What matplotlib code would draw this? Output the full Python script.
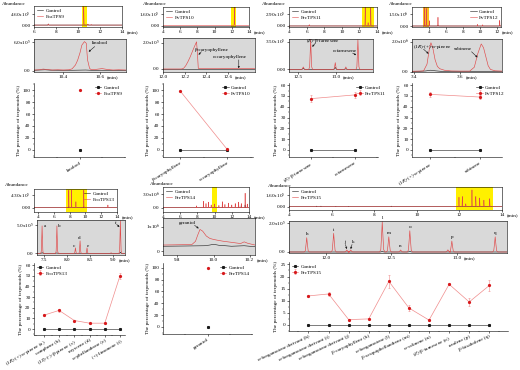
import matplotlib
matplotlib.use('Agg')
import matplotlib.pyplot as plt
from matplotlib.ticker import MultipleLocator

FS = 3.7
plt.rcParams['font.family'] = ['Liberation Serif', 'DejaVu Serif']
plt.rcParams['mathtext.fontset'] = 'stix'
plt.rcParams['font.size'] = FS
for k in ['xtick', 'ytick']:
    plt.rcParams[f'{k}.major.size'] = 1.5
    plt.rcParams[f'{k}.major.width'] = 0.4
    plt.rcParams[f'{k}.minor.size'] = 0.9
    plt.rcParams[f'{k}.minor.width'] = 0.3
    plt.rcParams[f'{k}.major.pad'] = 1.0
    plt.rcParams[f'{k}.labelsize'] = FS
plt.rcParams['axes.linewidth'] = 0.4

RED = '#e04848'
LRED = '#f08c8c'
DRED = '#d7191c'
BLACK = '#1a1a1a'
GRAY = '#d9d9d9'
YELLOW = '#fff000'

# ---------------- data ----------------
# A: FcaTPS9
A_ov_red = [(7.3, 0.4e5), (10.52, 7.6e5), (10.9, 0.4e5), (11.2, 0.25e5)]
A_ov_ctl = [(7.3, 0.45e5), (10.9, 0.3e5)]
A_zm_t = [10.24, 10.27, 10.29, 10.31, 10.34, 10.37, 10.40, 10.43, 10.447, 10.465, 10.477,
          10.49, 10.50, 10.514, 10.524, 10.531, 10.542, 10.55, 10.58, 10.61, 10.64, 10.67, 10.70, 10.74]
A_zm_red = [0.15, 0.2, 0.35, 0.25, 0.15, 0.2, 0.15, 0.2, 0.4, 1.2, 2.2,
            3.8, 5.4, 6.15, 5.8, 2.3, 0.5, 0.25, 0.3, 0.45, 0.25, 0.15, 0.2, 0.15]
A_zm_ct = [10.24, 10.30, 10.33, 10.38, 10.45, 10.52, 10.56, 10.60, 10.65, 10.74]
A_zm_ctl = [0.1, 0.2, 0.12, 0.1, 0.1, 0.15, 0.08, 0.1, 0.08, 0.05]
A_cats = ['linalool']
A_ctl = [0]
A_smp = [100]

# B: FvTPS10
B_ov_red = [(12.31, 2.5e5)]
B_ov_ctl = []
B_zm_t = [12.0, 12.17, 12.19, 12.21, 12.23, 12.25, 12.27, 12.29, 12.31, 12.318, 12.326, 12.34, 12.5, 12.7, 12.85]
B_zm_red = [0, 0, 0.05, 0.25, 0.55, 0.9, 1.3, 1.7, 2.07, 1.2, 0.05, 0.02, 0.02, 0.03, 0.02]
B_cats = ['β-caryophyllene', 'α-caryophyllene']
B_ctl = [0, 0]
B_smp = [99, 1]

# C: FrcTPS11
C_ov_red = [(6.3, 0.3e5), (12.66, 4.5e5), (12.99, 0.8e5), (13.29, 4.4e5)]
C_ov_ctl = [(6.3, 0.15e5)]
C_zm_red = [(12.566, 0.3e5), (12.664, 3.8e5), (12.99, 0.85e5), (13.13, 0.3e5), (13.29, 3.75e5)]
C_zm_ctl = [(12.566, 0.15e5), (12.99, 0.25e5), (13.13, 0.08e5)]
C_cats = ['($\\it{E}$)-β-farnesene', 'α-farnesene']
C_ctl = [0, 0]
C_smp = [47.5, 51]
C_err = [3, 2.5]

# D: FvTPS12
D_ov_red = [(3.47, 2.3e6), (3.69, 2.2e6), (4.05, 0.66e6), (5.05, 1.09e6), (9.7, 0.2e6),
            (10.3, 0.15e6), (12.3, 0.7e6)]
D_ov_ctl = [(3.47, 0.1e6), (5.05, 0.1e6), (12.3, 0.1e6)]
D_zm_t = [3.39, 3.44, 3.455, 3.465, 3.472, 3.48, 3.49, 3.50, 3.51, 3.53, 3.56, 3.60, 3.64,
          3.66, 3.675, 3.69, 3.70, 3.71, 3.72, 3.73, 3.75, 3.78]
D_zm_red = [0.03, 0.05, 0.5, 1.5, 1.93, 1.6, 0.8, 0.35, 0.2, 0.1, 0.05, 0.04, 0.04,
            0.3, 1.2, 1.85, 1.6, 1.0, 0.4, 0.15, 0.06, 0.04]
D_zm_ct = [3.39, 3.45, 3.47, 3.49, 3.52, 3.60, 3.69, 3.78]
D_zm_ctl = [0.0, 0.05, 0.1, 0.06, 0.02, 0.01, 0.02, 0.01]
D_cats = ['(1$\\it{R}$)-(+)-α-pinene', 'sabinene']
D_ctl = [0, 0]
D_smp = [51.5, 49]
D_err = [2, 1.5]

# E: FcoTPS13
E_ov_red = [(7.9, 5.9e5), (8.25, 5.9e5), (8.8, 2.0e5), (9.8, 5.9e5), (12.85, 0.9e5)]
E_ov_ctl = [(7.9, 0.3e5), (9.8, 0.3e5)]
E_zm_red = [(7.46, 4.83e5), (7.78, 4.83e5), (8.18, 0.97e5), (8.28, 2.2e5), (8.43, 0.97e5),
            (8.95, 0.1e5), (9.15, 5.7e5)]
E_zm_ctl = [(7.46, 0.15e5), (7.78, 0.1e5), (9.15, 0.2e5)]
E_cats = ['(1$\\it{R}$)-(+)-α-pinene (a)', 'camphene (b)', '(1$\\it{S}$)-(-)-β-pinene (c)',
          'myrcene (d)', 'α-phellandrene (e)', '(+)-limonene (f)']
E_ctl = [0, 0, 0, 0, 0, 0]
E_smp = [13, 17.5, 8, 5.5, 5.5, 50]
E_err = [1, 1.2, 0.5, 0.5, 0.5, 3]

# F: FreTPS14
F_ov_red = [(7.9, 0.4e6), (8.7, 1.4e6), (9.0, 0.9e6), (9.3, 1.2e6), (9.6, 0.6e6), (10.0, 0.8e6),
            (10.5, 0.5e6), (10.9, 1.3e6), (11.2, 0.7e6), (11.6, 1.0e6), (12.0, 0.6e6),
            (12.4, 0.9e6), (12.8, 1.2e6), (13.1, 0.9e6), (13.55, 3.15e6), (13.8, 0.8e6)]
F_ov_ctl = [(8.7, 0.3e6), (10.9, 0.3e6), (12.8, 0.4e6), (13.1, 0.5e6), (13.55, 0.6e6)]
F_zm_t = [9.72, 9.80, 9.88, 9.90, 9.912, 9.925, 9.94, 9.96, 9.98, 10.0, 10.02, 10.05, 10.08,
          10.12, 10.15, 10.17, 10.19, 10.23]
F_zm_red = [0.25, 0.26, 0.27, 0.4, 0.65, 0.89, 0.82, 0.62, 0.52, 0.48, 0.45, 0.41, 0.38,
            0.34, 0.31, 0.38, 0.32, 0.25]
F_zm_ct = [9.72, 9.85, 9.95, 9.98, 10.0, 10.03, 10.1, 10.17, 10.23]
F_zm_ctl = [0.2, 0.21, 0.22, 0.25, 0.28, 0.24, 0.2, 0.22, 0.18]
F_cats = ['geraniol']
F_ctl = [0]
F_smp = [100]

# G: FrcTPS15
G_ov_red = [(11.98, 1.3e5), (12.14, 1.4e5), (12.3, 0.4e5), (12.59, 2.3e5), (12.77, 1.4e5),
            (12.95, 1.2e5), (13.15, 0.9e5), (13.42, 1.1e5)]
G_ov_ctl = [(5.3, 0.08e5), (5.5, 0.08e5), (6.2, 0.06e5), (6.8, 0.06e5), (8.8, 0.08e5)]
G_zm_red = [(11.855, 0.99e5), (12.06, 1.29e5), (12.16, 0.14e5), (12.19, 0.14e5), (12.43, 2.09e5),
            (12.48, 1.05e5), (12.57, 0.14e5), (12.64, 1.47e5), (12.93, 0.15e5), (12.96, 0.76e5),
            (13.29, 1.05e5)]
G_zm_ctl = [(12.43, 0.05e5), (12.64, 0.05e5)]
G_letters = [('h', 11.855, 0.99e5), ('i', 12.06, 1.29e5), ('l', 12.43, 2.09e5), ('m', 12.48, 1.05e5),
             ('n', 12.57, 0.14e5), ('o', 12.64, 1.47e5), ('p', 12.96, 0.76e5), ('q', 13.29, 1.05e5)]
G_cats = ['α-bergamotene derivant (h)', 'α-bergamotene derivant (i)', 'α-bergamotene derivant (j)',
          'β-caryophyllene (k)', 'α-bergamotene (l)', 'β-sesquiphellandrene (m)', 'α-selinene (n)',
          '($\\it{Z}$)-β-farnesene (o)', 'azulene (p)', 'β-bisabolene (q)']
G_ctl = [0] * 10
G_smp = [12, 12.8, 2.2, 2.5, 18, 7, 2, 16.8, 9.5, 16.3]
G_err = [0.5, 0.8, 0.3, 0.2, 2.8, 1.2, 0.3, 0.4, 1.6, 2.2]

# ---------------- helpers ----------------
W, H = 520, 370
fig = plt.figure(figsize=(W / 100, H / 100), dpi=100)

PX = [-1.0, -0.55, -0.25, 0.0, 0.25, 0.55, 1.0]
PY = [0.0, 0.08, 0.55, 1.0, 0.55, 0.08, 0.0]


def box(l, t, r, b):
    return fig.add_axes([l / W, 1 - b / H, (r - l) / W, (b - t) / H])


def peak_trace(xlim, peaks, hw):
    xs, ys = [xlim[0]], [0.0]
    for t, h in sorted(peaks):
        for px, py in zip(PX, PY):
            xs.append(t + px * hw)
            ys.append(py * h)
    xs.append(xlim[1])
    ys.append(0.0)
    return xs, ys


def min_label(ax, t, lab):
    ax.annotate('(min)', xy=(t, 0), xycoords=('data', 'axes fraction'),
                xytext=(len(lab) * 1.05 + 2.5, -3.4), textcoords='offset pixels',
                ha='left', va='top', fontsize=FS)


def abundance(x, y):
    fig.text(x / W, 1 - y / H, 'Abundance', ha='left', va='center', fontsize=FS)


def leg(ax, loc, **kw):
    ax.legend(loc=loc, frameon=False, handlelength=1.3, borderpad=0.2, labelspacing=0.15,
              handletextpad=0.4, borderaxespad=0.3, fontsize=FS, **kw)


def overview(ax, xlim, xticks, ylim, ytop, ytop_lab, span, red, ctl, hw, name, loc,
             zero='0.00', span_color=YELLOW):
    ax.axvspan(*span, color=span_color, lw=0, zorder=0)
    xs, ys = peak_trace(xlim, ctl, hw)
    ax.plot(xs, ys, color=BLACK, lw=0.4, label='Control')
    xs, ys = peak_trace(xlim, red, hw)
    ax.plot(xs, ys, color=RED, lw=0.4, label=name)
    ax.set_xlim(xlim)
    ax.set_ylim(ylim)
    ax.set_xticks(xticks)
    labs = [f'{t:g}' for t in xticks]
    ax.set_xticklabels(labs)
    ax.set_yticks([0, ytop])
    ax.set_yticklabels([zero, ytop_lab])
    min_label(ax, xticks[-1], labs[-1])
    leg(ax, loc)


def zoom_axes(ax, xlim, xticks, xfmt, ylim, ytop, ytop_lab, zero):
    ax.set_facecolor(GRAY)
    ax.set_xlim(xlim)
    ax.set_ylim(ylim)
    ax.set_xticks(xticks)
    labs = [xfmt.format(t) for t in xticks]
    ax.set_xticklabels(labs)
    ax.set_yticks([0, ytop])
    ax.set_yticklabels([zero, ytop_lab])
    min_label(ax, xticks[-1], labs[-1])


def arrow(ax, text_xy, tip_xy):
    ax.annotate('', xy=tip_xy, xytext=text_xy,
                arrowprops=dict(arrowstyle='-|>', lw=0.4, color=BLACK, mutation_scale=2.5,
                                shrinkA=0, shrinkB=0))


def pct(ax, cats, ctl, smp, err, xlim, ylim, ymaj, ymin, name, loc, rot=32, **legkw):
    x = list(range(len(cats)))
    ax.plot(x, ctl, color=BLACK, lw=0.4, marker='s', ms=1.2, label='Control')
    ax.errorbar(x, smp, yerr=err, color=LRED, lw=0.5, marker='o', ms=1.3, mfc=DRED, mec=DRED,
                elinewidth=0.4, ecolor=LRED, capsize=0.8, capthick=0.4, label=name)
    ax.set_xlim(xlim)
    ax.set_ylim(ylim)
    ax.set_xticks(x)
    ax.set_xticklabels(cats, rotation=rot, ha='right', rotation_mode='anchor')
    ax.xaxis.set_minor_locator(MultipleLocator(0.5))
    ax.yaxis.set_major_locator(MultipleLocator(ymaj))
    ax.yaxis.set_minor_locator(MultipleLocator(ymin))
    ax.spines['top'].set_visible(False)
    ax.spines['right'].set_visible(False)
    ax.set_ylabel('The percentage of terpenoids (%)', labelpad=1.5, fontsize=FS + 0.1)
    leg(ax, loc, **legkw)


# ---------------- A: FcaTPS9 ----------------
ax = box(34, 6, 122, 27)
overview(ax, (6, 14), [6, 8, 10, 12, 14], (-0.8e5, 7.9e5), 4.6e5, '4.60x10$^5$',
         (10.35, 10.8), A_ov_red, A_ov_ctl, 0.06, 'FcaTPS9', 'upper left')
abundance(2, 4)
ax = box(34, 39, 126, 72)
zoom_axes(ax, (10.24, 10.74), [10.4, 10.6], '{:.1f}', (-0.27e5, 6.7e5), 6e5, '6.0x10$^5$', '0.0')
ax.plot(A_zm_ct, [v * 1e5 for v in A_zm_ctl], color=BLACK, lw=0.4)
ax.plot(A_zm_t, [v * 1e5 for v in A_zm_red], color=RED, lw=0.45)
ax.text(10.6, 5.75e5, 'linalool', ha='center', va='center')
arrow(ax, (10.57, 5.1e5), (10.537, 4.0e5))
ax = box(34, 83, 125, 157)
pct(ax, A_cats, A_ctl, A_smp, None, (-1, 1), (-12, 112), 20, 10, 'FcaTPS9', 'upper right')

# ---------------- B: FvTPS10 ----------------
ax = box(163, 7, 249, 27)
overview(ax, (4, 14), [4, 6, 8, 10, 12, 14], (-0.2e5, 2.55e5), 1.6e5, '1.60x10$^5$',
         (11.85, 12.45), B_ov_red, B_ov_ctl, 0.06, 'FvTPS10', 'upper left')
abundance(143, 4)
ax = box(163, 38, 255, 72)
zoom_axes(ax, (12.0, 12.85), [12.0, 12.2, 12.4, 12.6], '{:.1f}', (-0.23e5, 2.36e5), 2e5,
          '2.0x10$^5$', '0.0')
ax.plot([12.0, 12.85], [0, 0], color=BLACK, lw=0.4)
ax.plot(B_zm_t, [v * 1e5 for v in B_zm_red], color=RED, lw=0.45)
ax.text(12.45, 1.45e5, 'β-caryophyllene', ha='center', va='center')
arrow(ax, (12.355, 1.32e5), (12.328, 1.08e5))
ax.text(12.62, 0.9e5, 'α-caryophyllene', ha='center', va='center')
arrow(ax, (12.7, 0.7e5), (12.7, 0.05e5))
ax = box(163, 83, 253, 157)
pct(ax, B_cats, B_ctl, B_smp, None, (-0.36, 1.55), (-12, 112), 20, 10, 'FvTPS10', 'upper right')

# ---------------- C: FrcTPS11 ----------------
ax = box(289, 7, 377, 27)
overview(ax, (4, 14), [4, 6, 8, 10, 12, 14], (-0.25e5, 4.6e5), 2.9e5, '2.90x10$^5$',
         (12.3, 13.7), C_ov_red, C_ov_ctl, 0.06, 'FrcTPS11', 'upper left')
abundance(262, 4)
ax = box(289, 39, 373, 72)
zoom_axes(ax, (12.377, 13.49), [12.5, 13.0], '{:.1f}', (-0.34e5, 3.84e5), 3.5e5,
          '3.50x10$^5$', '0.00')
xs, ys = peak_trace((12.377, 13.49), C_zm_ctl, 0.025)
ax.plot(xs, ys, color=BLACK, lw=0.4)
xs, ys = peak_trace((12.377, 13.49), C_zm_red, 0.025)
ax.plot(xs, ys, color=RED, lw=0.45)
ax.text(12.83, 3.6e5, '($\\it{E}$)-β-farnesene', ha='center', va='center')
arrow(ax, (12.73, 3.35e5), (12.685, 2.85e5))
ax.text(13.12, 2.32e5, 'α-farnesene', ha='center', va='center')
arrow(ax, (13.22, 2.05e5), (13.268, 1.8e5))
ax = box(289, 83, 378, 157)
pct(ax, C_cats, C_ctl, C_smp, C_err, (-0.49, 1.52),
    (-6.5, 62), 10, 5, 'FrcTPS11', 'upper right', bbox_to_anchor=(1.12, 1.0))

# ---------------- D: FvTPS12 ----------------
ax = box(412, 7, 501, 27)
overview(ax, (2, 12.45), [4, 6, 8, 10, 12], (-0.125e6, 2.38e6), 1.5e6, '1.50x10$^6$',
         (3.3, 3.95), D_ov_red, D_ov_ctl, 0.05, 'FvTPS12', 'upper right', span_color='#f8c21c')
abundance(389, 4)
ax = box(412, 39, 502, 72)
zoom_axes(ax, (3.39, 3.78), [3.4, 3.6], '{:.1f}', (-0.02e6, 2.18e6), 2e6, '2.0x10$^6$', '0.0')
ax.plot(D_zm_ct, [v * 1e6 for v in D_zm_ctl], color=BLACK, lw=0.4)
ax.plot(D_zm_t, [v * 1e6 for v in D_zm_red], color=RED, lw=0.45)
ax.text(3.393, 1.67e6, '(1$\\it{R}$)-(+)-α-pinene', ha='left', va='center')
arrow(ax, (3.44, 1.5e6), (3.462, 1.2e6))
ax.text(3.61, 1.49e6, 'sabinene', ha='center', va='center')
arrow(ax, (3.648, 1.33e6), (3.674, 0.95e6))
ax = box(412, 83, 502, 157)
pct(ax, D_cats, D_ctl, D_smp, D_err, (-0.36, 1.44), (-6.5, 62), 10, 5, 'FvTPS12', 'upper right',
    bbox_to_anchor=(1.06, 1.0))

# ---------------- E: FcoTPS13 ----------------
ax = box(34, 189, 117, 212)
overview(ax, (3.5, 14), [4, 6, 8, 10, 12, 14], (-1.46e5, 6.3e5), 4.3e5, '4.30x10$^5$',
         (7.6, 10.2), E_ov_red, E_ov_ctl, 0.05, 'FcoTPS13', 'upper right')
abundance(5, 185)
ax = box(37, 220, 125, 255)
zoom_axes(ax, (7.35, 9.25), [7.5, 8.0, 8.5, 9.0], '{:.1f}', (-0.29e5, 5.85e5), 5e5,
          '5.0x10$^5$', '0.0')
xs, ys = peak_trace((7.35, 9.25), E_zm_ctl, 0.03)
ax.plot(xs, ys, color=BLACK, lw=0.4)
xs, ys = peak_trace((7.35, 9.25), E_zm_red, 0.03)
ax.plot(xs, ys, color=RED, lw=0.45)
ax.text(7.49, 4.85e5, 'a', ha='left', va='center')
ax.text(7.81, 4.85e5, 'b', ha='left', va='center')
ax.text(8.15, 1.35e5, 'c', ha='center', va='center')
ax.text(8.27, 2.65e5, 'd', ha='center', va='center')
ax.text(8.44, 1.35e5, 'e', ha='center', va='center')
ax.text(9.04, 5.3e5, 'f', ha='center', va='center')
arrow(ax, (9.07, 5.1e5), (9.13, 4.6e5))
ax = box(34, 263, 125, 335)
pct(ax, E_cats, E_ctl, E_smp, E_err, (-0.65, 5.33), (-5.6, 62), 10, 5, 'FcoTPS13', 'upper left',
    rot=30)

# ---------------- F: FreTPS14 ----------------
ax = box(163, 187, 249, 212)
overview(ax, (4, 14), [4, 6, 8, 10, 12, 14], (-0.94e6, 4.5e6), 3e6, '3.0x10$^6$',
         (9.75, 10.3), F_ov_red, F_ov_ctl, 0.04, 'FreTPS14', 'upper left', zero='0.0')
abundance(150, 184)
ax = box(163, 218, 255, 255)
zoom_axes(ax, (9.72, 10.23), [9.8, 10.0, 10.2], '{:.1f}', (-0.16e6, 1.36e6), 1e6,
          '1x10$^6$', '0')
ax.plot(F_zm_ct, [v * 1e6 for v in F_zm_ctl], color=BLACK, lw=0.4)
ax.plot(F_zm_t, [v * 1e6 for v in F_zm_red], color=RED, lw=0.45)
ax.text(9.855, 1.16e6, 'geraniol', ha='center', va='center')
arrow(ax, (9.895, 1.06e6), (9.918, 0.93e6))
ax = box(163, 263, 252, 334)
pct(ax, F_cats, F_ctl, F_smp, None, (-1, 1), (-12, 108), 20, 10, 'FreTPS14', 'upper right')

# ---------------- G: FrcTPS15 ----------------
ax = box(289, 187, 502, 210)
overview(ax, (4, 14), [4, 6, 8, 10, 12, 14], (-0.45e5, 2.7e5), 1.6e5, '1.60x10$^5$',
         (11.83, 13.58), G_ov_red, G_ov_ctl, 0.03, 'FrcTPS15', 'upper left')
abundance(268, 186)
ax = box(289, 221, 507, 253)
zoom_axes(ax, (11.72, 13.38), [12.0, 12.5, 13.0], '{:.1f}', (-0.07e5, 2.14e5), 2e5,
          '2.0x10$^5$', '0.0')
xs, ys = peak_trace((11.72, 13.38), G_zm_ctl, 0.02)
ax.plot(xs, ys, color=BLACK, lw=0.4)
xs, ys = peak_trace((11.72, 13.38), G_zm_red, 0.02)
ax.plot(xs, ys, color=RED, lw=0.45)
for lab, t, h in G_letters:
    ax.text(t, h + 0.12e5, lab, ha='center', va='bottom')
ax.text(12.145, 0.55e5, 'j', ha='center', va='bottom')
arrow(ax, (12.15, 0.52e5), (12.16, 0.2e5))
ax.text(12.205, 0.55e5, 'k', ha='center', va='bottom')
arrow(ax, (12.2, 0.52e5), (12.19, 0.2e5))
ax = box(289, 262, 508, 331)
pct(ax, G_cats, G_ctl, G_smp, G_err, (-0.97, 9.93), (-2.5, 26), 5, 2.5, 'FrcTPS15', 'upper left',
    rot=25)

fig.savefig('out.png', dpi=100)
